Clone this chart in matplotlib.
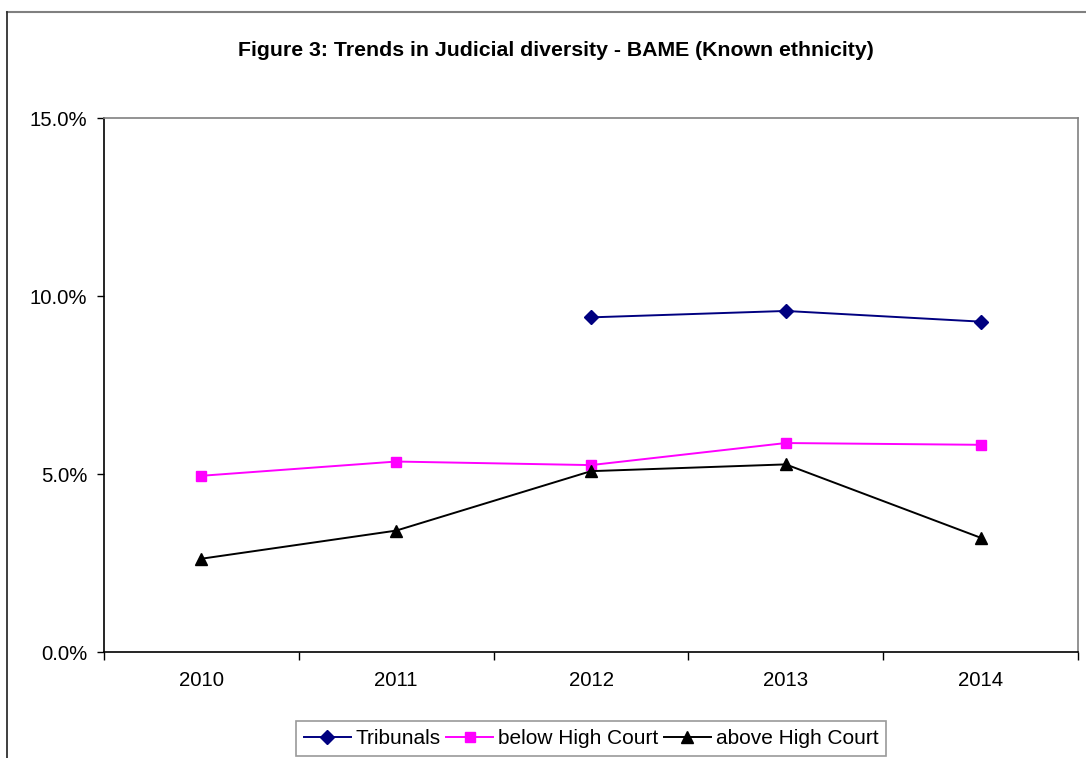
import matplotlib
matplotlib.use("Agg")
import matplotlib.pyplot as plt
from matplotlib.lines import Line2D

plt.rcParams['font.family'] = ['Liberation Sans', 'DejaVu Sans']

years = ["2010", "2011", "2012", "2013", "2014"]
tribunals = [None, None, 9.40, 9.58, 9.28]
below_hc = [4.95, 5.35, 5.25, 5.87, 5.82]
above_hc = [2.62, 3.41, 5.08, 5.27, 3.21]

fig = plt.figure(figsize=(10.86, 7.58), dpi=100)
ax = fig.add_axes([104/1086, 1-652/758, (1078-104)/1086, (652-118)/758])

xs = list(range(len(years)))
trib_x = [x for x, v in zip(xs, tribunals) if v is not None]
trib_y = [v for v in tribunals if v is not None]

ax.plot(trib_x, trib_y, color="#000080", lw=1.4, marker="D", ms=7.5,
        label="Tribunals", clip_on=False)
ax.plot(xs, below_hc, color="#FF00FF", lw=1.4, marker="s", ms=7.5,
        label="below High Court", clip_on=False)
ax.plot(xs, above_hc, color="black", lw=1.4, marker="^", ms=8.5,
        label="above High Court", clip_on=False)

ax.set_xlim(-0.5, len(years) - 0.5)
ax.set_ylim(0, 15)
ax.set_yticks([0, 5, 10, 15])
ax.set_yticklabels([f"{v:.1f}%" for v in [0, 5, 10, 15]], fontsize=14.7)

# category labels centred, tick marks on the boundaries
ax.set_xticks([x - 0.5 for x in range(len(years) + 1)])
ax.set_xticklabels([])
ax.set_xticks(xs, minor=True)
ax.set_xticklabels(years, minor=True, fontsize=14.7)
ax.tick_params(axis='x', which='major', direction='out', length=6, width=1, color="black")
ax.tick_params(axis='x', which='minor', length=0, pad=13.5)
ax.tick_params(axis='y', direction='out', length=5, width=1, pad=7)

for s in ['left', 'bottom']:
    ax.spines[s].set_color('black')
    ax.spines[s].set_linewidth(1.2)
for s in ['top', 'right']:
    ax.spines[s].set_color('#808080')
    ax.spines[s].set_linewidth(1.2)

fig.text(556/1086, 1 - 50/758, "Figure 3: Trends in Judicial diversity - BAME (Known ethnicity)",
         ha='center', va='center', fontsize=15.3, fontweight='bold')

leg = fig.legend(loc='upper center', bbox_to_anchor=(591/1086, 1 - 721/758), ncol=3,
                 fontsize=15, frameon=True, fancybox=False, handlelength=2.25,
                 handletextpad=0.25, columnspacing=0.25, borderpad=0.38,
                 borderaxespad=0)
leg.get_frame().set_edgecolor('#808080')
leg.get_frame().set_linewidth(1.2)

# outer chart border (top and left edges visible)
fig.add_artist(Line2D([7/1086, 1.0], [1 - 12/758, 1 - 12/758], transform=fig.transFigure,
                      color='#808080', lw=1.5))
fig.add_artist(Line2D([7/1086, 7/1086], [0, 1 - 12/758], transform=fig.transFigure,
                      color='#303030', lw=1.3))

fig.savefig("out.png", dpi=100)
